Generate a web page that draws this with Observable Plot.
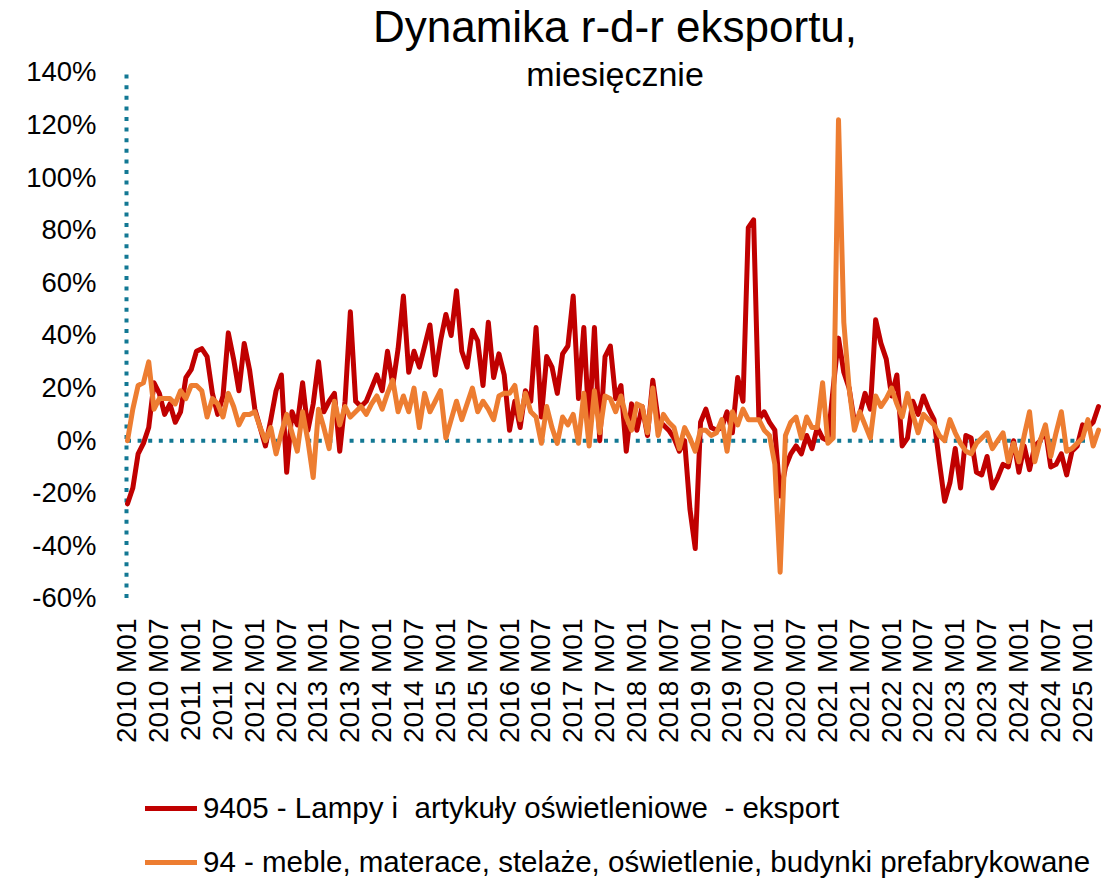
<!DOCTYPE html>
<html>
<head>
<meta charset="utf-8">
<script src="https://cdn.jsdelivr.net/npm/d3@7"></script>
<script src="https://cdn.jsdelivr.net/npm/@observablehq/plot@0.6"></script>
<style>
  html, body { margin: 0; padding: 0; background: #fff; }
  #wrap { position: relative; width: 1119px; height: 881px; overflow: hidden; font-family: "Liberation Sans", Arial, sans-serif; color: #000; }
  #chart { position: absolute; left: 0; top: 0; }
  .t { position: absolute; line-height: 1; white-space: pre; }
  #title { left: 0; width: 1230px; text-align: center; top: 5px; font-size: 44px; }
  #sub { left: 0; width: 1230px; text-align: center; top: 57px; font-size: 34px; }
  .sw { position: absolute; left: 145px; width: 52px; height: 5px; }
  .lt { position: absolute; left: 203px; font-size: 29.5px; line-height: 1; white-space: pre; }
</style>
</head>
<body>
<div id="wrap">
  <div id="chart"></div>
  <div class="t" id="title">Dynamika r-d-r eksportu,</div>
  <div class="t" id="sub">miesięcznie</div>
  <div class="sw" id="sw1"></div><div class="lt" id="lt1"></div>
  <div class="sw" id="sw2"></div><div class="lt" id="lt2"></div>
</div>
<script>
// ---- data (year-on-year dynamics, %, monthly from 2010 M01) ----
const seriesNames = [
  "9405 - Lampy i  artykuły oświetleniowe  - eksport",
  "94 - meble, materace, stelaże, oświetlenie, budynki prefabrykowane"
];
const seriesColors = ["#c00000", "#ed7d31"];
const startYear = 2010;

const lampy = [
  -24, -18, -5, -1, 5, 22, 18, 10, 14, 7,
  11, 24, 27, 34, 35, 32, 18, 10, 17, 41,
  31, 19, 37, 27, 12, 5, -2, 8, 19, 25,
  -12, 11, 6, 22, 4, 14, 30, 11, 15, 18,
  -4, 15, 49, 15, 13, 15, 20, 25, 19, 34,
  21, 35, 55, 26, 34, 28, 36, 44, 25, 38,
  48, 40, 57, 34, 28, 42, 38, 21, 45, 24,
  33, 25, 4, 15, 5, 19, 15, 43, 9, 32,
  28, 18, 33, 36, 55, 16, 43, 5, 43, 0,
  32, 36, 16, 21, -4, 14, 4, 13, 2, 23,
  8, 6, 4, 1, -4, 0, -26, -41, 7, 12,
  5, 4, 5, 11, 3, 24, 15, 81, 84, 8,
  11, 7, 4, -21, -10, -5, -2, -5, 2, -3,
  5, 1, 0, 20, 39, 26, 20, 7, 10, 18,
  12, 46, 37, 31, 17, 25, -2, 1, 15, 10,
  17, 12, 8, -8, -23, -16, -3, -18, 2, 1,
  -12, -13, -6, -18, -14, -9, -10, 0, -12, -2,
  -11, -2, 0, 4, -10, -9, -5, -13, -4, -2,
  6, 5, 7, 13
];

const meble = [
  0, 12, 21, 22, 30, 12, 16, 16, 16, 14,
  19, 16, 21, 21, 19, 9, 16, 14, 9, 18,
  13, 6, 10, 10, 11, 5, 0, 5, -5, 3,
  10, 3, -4, 11, 0, -14, 12, 5, -3, 15,
  6, 13, 9, 11, 13, 10, 14, 17, 12, 18,
  23, 11, 17, 11, 20, 5, 18, 11, 15, 19,
  1, 8, 15, 8, 14, 20, 11, 15, 12, 8,
  17, 18, 18, 21, 8, 18, 11, 9, -1, 13,
  5, -1, 9, 6, 10, -1, 18, -2, 19, 3,
  17, 16, 11, 17, 9, 4, 14, 13, 3, 20,
  2, 10, 7, 5, -3, 5, 1, -4, 4, 4,
  2, 3, 8, -4, 11, 6, 12, 8, 8, 8,
  4, 2, -9, -50, 2, 7, 9, 1, 9, 5,
  5, 22, -1, 1, 122, 45, 20, 4, 11, 6,
  1, 17, 13, 16, 20, 14, 9, 18, 10, 3,
  10, 8, 6, 2, 0, 8, 3, -1, -4, -5,
  -1, 1, 3, -3, 0, 3, -8, -1, -8, 2,
  11, -8, 0, 6, -6, 3, 11, -4, -3, -1,
  1, 8, -2, 4
];

const yTicks = [-60, -40, -20, 0, 20, 40, 60, 80, 100, 120, 140];

// category labels "YYYY Mmm"
const months = lampy.map((_, i) => `${startYear + Math.floor(i / 12)} M${String(i % 12 + 1).padStart(2, "0")}`);
const xTicks = months.filter((_, i) => i % 6 === 0);

const rows1 = lampy.map((v, i) => ({month: months[i], value: v}));
const rows2 = meble.map((v, i) => ({month: months[i], value: v}));

const teal = "#127894";
const font = "Liberation Sans, Arial, sans-serif";

const chart = Plot.plot({
  width: 1119,
  height: 780,
  marginTop: 72,
  marginBottom: 182,
  marginLeft: 127,
  marginRight: 21,
  style: {fontFamily: font, fontSize: "27.5px", color: "#000", background: "transparent", overflow: "visible"},
  x: {type: "point", domain: months, padding: 0},
  y: {domain: [-60, 140]},
  marks: [
    Plot.axisY(yTicks, {tickSize: 0, tickPadding: 31, tickFormat: d => d + "%", label: null, fontSize: 27.5}),
    Plot.axisX(xTicks, {tickSize: 0, tickPadding: 20, tickRotate: -90, label: null, fontSize: 28}),
    Plot.ruleY([0], {stroke: teal, strokeWidth: 4, strokeDasharray: "4 6.6"}),
    Plot.ruleX([months[0]], {y1: -60, y2: 140, stroke: teal, strokeWidth: 4, strokeDasharray: "4 6.6", dx: -1}),
    Plot.line(rows1, {x: "month", y: "value", stroke: seriesColors[0], strokeWidth: 5, strokeLinejoin: "round", strokeLinecap: "round"}),
    Plot.line(rows2, {x: "month", y: "value", stroke: seriesColors[1], strokeWidth: 5, strokeLinejoin: "round", strokeLinecap: "round"})
  ]
});
document.getElementById("chart").appendChild(chart);

// legend
const sw1 = document.getElementById("sw1"), sw2 = document.getElementById("sw2");
sw1.style.background = seriesColors[0]; sw1.style.top = "806px";
sw2.style.background = seriesColors[1]; sw2.style.top = "860px";
const lt1 = document.getElementById("lt1"), lt2 = document.getElementById("lt2");
lt1.textContent = seriesNames[0]; lt1.style.top = "793px";
lt2.textContent = seriesNames[1]; lt2.style.top = "847px";
</script>
</body>
</html>
